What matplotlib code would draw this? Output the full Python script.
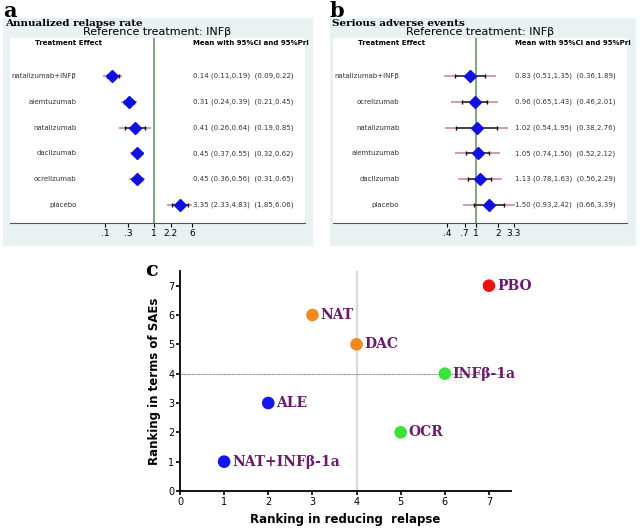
import numpy as np
import matplotlib.pyplot as plt
from matplotlib.patches import Rectangle

W, H = 640, 528

# panel a: annualized relapse rate
arr_names = ["natalizumab+INFβ", "alemtuzumab", "natalizumab", "daclizumab", "ocrelizumab", "placebo"]
arr_mean = [0.14, 0.31, 0.41, 0.45, 0.45, 3.35]
arr_ci_lo = [0.11, 0.24, 0.26, 0.37, 0.36, 2.33]
arr_ci_hi = [0.19, 0.39, 0.64, 0.55, 0.56, 4.83]
arr_pi_lo = [0.09, 0.21, 0.19, 0.32, 0.31, 1.85]
arr_pi_hi = [0.22, 0.45, 0.85, 0.62, 0.65, 6.06]
arr_ticks = [0.1, 0.3, 1, 2.2, 6]
arr_ticklabels = [".1", ".3", "1", "2.2", "6"]

# panel b: serious adverse events
sae_names = ["natalizumab+INFβ", "ocrelizumab", "natalizumab", "alemtuzumab", "daclizumab", "placebo"]
sae_mean = [0.83, 0.96, 1.02, 1.05, 1.13, 1.50]
sae_ci_lo = [0.51, 0.65, 0.54, 0.74, 0.78, 0.93]
sae_ci_hi = [1.35, 1.43, 1.95, 1.50, 1.63, 2.42]
sae_pi_lo = [0.36, 0.46, 0.38, 0.52, 0.56, 0.66]
sae_pi_hi = [1.89, 2.01, 2.76, 2.12, 2.29, 3.39]
sae_ticks = [0.4, 0.7, 1, 2, 3.3]
sae_ticklabels = [".4", ".7", "1", "2", "3.3"]

# panel c: rankings
rank_labels = ["NAT+INFβ-1a", "ALE", "NAT", "DAC", "OCR", "INFβ-1a", "PBO"]
rank_relapse = [1, 2, 3, 4, 5, 6, 7]
rank_sae = [1, 3, 6, 5, 2, 4, 7]
rank_colors = ["#1414f0", "#1414f0", "#f28a22", "#f28a22", "#3ae23a", "#3ae23a", "#f01010"]

fig = plt.figure(figsize=(W / 100, H / 100), dpi=100)


def px_axes(x0, y0, x1, y1):
    return fig.add_axes([x0 / W, 1 - y1 / H, (x1 - x0) / W, (y1 - y0) / H])


def forest(bg, inner, letter, title, names, mean, cl, ch, pl, ph, xlim, ticks, ticklabels):
    fig.patches.append(Rectangle((bg[0] / W, 1 - bg[3] / H), (bg[2] - bg[0]) / W, (bg[3] - bg[1]) / H,
                                 transform=fig.transFigure, facecolor="#e9f1f2", edgecolor="none", zorder=-5))
    fig.text(bg[0] / W, 1 - 1 / H, letter, family="DejaVu Serif", weight="bold", fontsize=15, va="top")
    fig.text((bg[0] + 2) / W, 1 - 24 / H, title, family="DejaVu Serif", weight="bold", fontsize=7.5, va="center")
    fig.text(((inner[0] + inner[2]) / 2) / W, 1 - 32 / H, "Reference treatment: INFβ", fontsize=8,
             ha="center", va="center")
    ax = px_axes(*inner)
    ax.set_zorder(2)
    ax.set_facecolor("white")
    ax.set_xscale("log")
    ax.set_xlim(*xlim)
    ax.set_ylim(0.3, 7.47)
    ys = np.arange(len(names), 0, -1)
    ax.axvline(1, color="#6a9a6a", lw=1.2, ymax=1)
    ax.hlines(ys, pl, ph, color="#c98a98", lw=1.2)
    ax.hlines(ys, cl, ch, color="#333333", lw=1.2)
    ax.plot(cl + ch, list(ys) * 2, "|", color="black", ms=3)
    ax.plot(mean, ys, "D", color="#1010e0", ms=6.5)
    tr = ax.get_yaxis_transform()
    for y, n, m, a, b, c, d in zip(ys, names, mean, cl, ch, pl, ph):
        ax.text(0.225, y, n, transform=tr, ha="right", va="center", fontsize=5, color="#333333")
        ax.text(0.62, y, f"{m:.2f} ({a:.2f},{b:.2f})  ({c:.2f},{d:.2f})", transform=tr,
                ha="left", va="center", fontsize=5, color="#333333")
    ax.text(0.2, 7.27, "Treatment Effect", transform=tr, ha="center", va="center", fontsize=5, weight="bold")
    ax.text(0.62, 7.27, "Mean with 95%CI and 95%PrI", transform=tr, ha="left", va="center",
            fontsize=5, weight="bold")
    ax.set_xticks(ticks)
    ax.set_xticklabels(ticklabels, fontsize=6.5)
    ax.minorticks_off()
    ax.set_yticks([])
    for s in ["top", "right", "left"]:
        ax.spines[s].set_visible(False)
    ax.spines["bottom"].set_color("#555555")
    ax.tick_params(axis="x", length=3, pad=1)
    return ax


forest((3, 18, 313, 246), (10, 38, 305, 223), "a", "Annualized relapse rate", arr_names,
       arr_mean, arr_ci_lo, arr_ci_hi, arr_pi_lo, arr_pi_hi,
       (10 ** -2.94, 10 ** 3.08), arr_ticks, arr_ticklabels)
forest((330, 18, 636, 246), (333, 38, 627, 223), "b", "Serious adverse events", sae_names,
       sae_mean, sae_ci_lo, sae_ci_hi, sae_pi_lo, sae_pi_hi,
       (10 ** -1.96, 10 ** 2.07), sae_ticks, sae_ticklabels)

# panel c
axc = px_axes(180, 271, 511, 491)
axc.set_xlim(0, 7.5)
axc.set_ylim(0, 7.5)
axc.axvline(4, color="#d8d8d8", lw=1.5, zorder=1)
axc.plot([0, 7.37], [4, 4], color="#888888", lw=0.8, ls=(0, (1, 0.5)), zorder=1)
axc.scatter(rank_relapse, rank_sae, s=65, c=rank_colors, zorder=3)
for x, y, lab in zip(rank_relapse, rank_sae, rank_labels):
    axc.text(x + 0.18, y, lab, family="DejaVu Serif", weight="bold", fontsize=10, color="#6a1a6a",
             va="center", ha="left", zorder=4)
axc.set_xticks(range(8))
axc.set_yticks(range(8))
axc.tick_params(labelsize=7, length=3, width=1.2, pad=1)
for s in ["top", "right"]:
    axc.spines[s].set_visible(False)
for s in ["left", "bottom"]:
    axc.spines[s].set_linewidth(1.3)
axc.set_xlabel("Ranking in reducing  relapse", fontsize=8.5, weight="bold", labelpad=5)
axc.set_ylabel("Ranking in terms of SAEs", fontsize=8.5, weight="bold", labelpad=5)
fig.text(145 / W, 1 - 270 / H, "c", family="DejaVu Serif", weight="bold", fontsize=15, va="center")

fig.savefig("out.png", dpi=100)
